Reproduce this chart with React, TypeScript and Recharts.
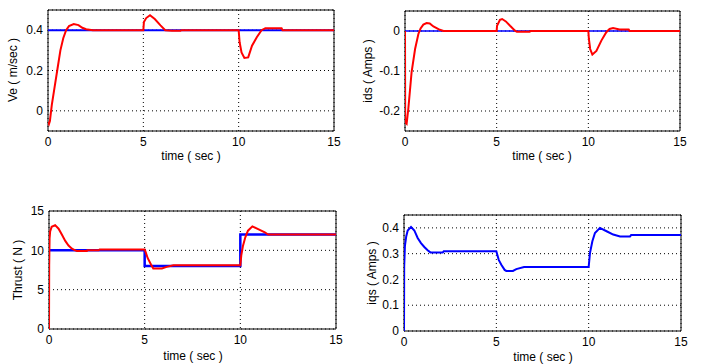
import React from 'react';
import { LineChart, Line, XAxis, YAxis, CartesianGrid, ReferenceArea } from 'recharts';

const timeTicks = [0, 5, 10, 15];

// Panel 1: Ve (m/sec)
const veTicks = [0, 0.2, 0.4];
const veRefTime = [0, 15];
const veRef = [0.4, 0.4];
const veTime = [0, 0.05, 0.1, 0.2, 0.35, 0.5, 0.65, 0.8, 0.95, 1.1, 1.35, 1.6, 1.8, 2.0, 2.35, 5.0, 5.03, 5.15, 5.35, 5.6, 5.9, 6.15, 6.5, 6.95, 7.0, 10.0, 10.05, 10.15, 10.3, 10.5, 10.7, 10.95, 11.2, 11.4, 12.25, 12.3, 15];
const veActual = [-0.055, -0.065, -0.05, 0.03, 0.12, 0.21, 0.3, 0.36, 0.4, 0.42, 0.43, 0.425, 0.412, 0.405, 0.4, 0.4, 0.44, 0.46, 0.474, 0.455, 0.424, 0.4, 0.397, 0.397, 0.4, 0.4, 0.34, 0.29, 0.262, 0.265, 0.323, 0.365, 0.4, 0.41, 0.41, 0.4, 0.4];

// Panel 2: ids (Amps)
const idsTicks = [-0.2, -0.1, 0];
const idsRefTime = [0, 15];
const idsRef = [0, 0];
const idsTime = [0, 0.01, 0.09, 0.18, 0.36, 0.55, 0.73, 0.85, 1.0, 1.18, 1.35, 1.55, 1.9, 2.1, 5.0, 5.02, 5.18, 5.3, 5.5, 5.73, 6.0, 6.1, 6.8, 6.85, 10.0, 10.03, 10.1, 10.22, 10.44, 10.71, 10.98, 11.16, 11.35, 11.7, 12.2, 12.25, 15];
const idsActual = [0, -0.228, -0.232, -0.195, -0.103, -0.045, -0.0075, 0.0065, 0.016, 0.02, 0.019, 0.0115, 0.003, 0, 0, 0.013, 0.028, 0.03, 0.024, 0.013, 0.001, -0.002, -0.002, 0, 0, -0.02, -0.045, -0.059, -0.05, -0.024, -0.003, 0.005, 0.0075, 0.004, 0.004, 0, 0];

// Panel 3: Thrust (N)
const thrustTicks = [0, 5, 10, 15];
const thrustRefTime = [0, 5, 5, 10, 10, 15];
const thrustRef = [10, 10, 8, 8, 12, 12];
const thrustTime = [0, 0.01, 0.03, 0.06, 0.14, 0.32, 0.5, 0.67, 0.85, 1.02, 1.2, 1.37, 1.46, 1.98, 2.0, 2.6, 2.65, 5.0, 5.02, 5.16, 5.33, 5.45, 5.9, 6.15, 6.5, 10.0, 10.05, 10.14, 10.26, 10.4, 10.63, 10.93, 11.28, 11.45, 15];
const thrustActual = [0, 8.1, 11.5, 12.4, 13.0, 13.2, 12.75, 12.0, 11.2, 10.6, 10.2, 10.0, 9.9, 9.9, 10.0, 10.0, 10.12, 10.12, 10.0, 9.0, 8.2, 7.7, 7.7, 7.9, 8.1, 8.1, 9.35, 10.6, 11.66, 12.5, 13.05, 12.7, 12.3, 12.0, 12.0];

// Panel 4: iqs (Amps)
const iqsTicks = [0, 0.1, 0.2, 0.3, 0.4];
const iqsTime = [0, 0.01, 0.05, 0.12, 0.2, 0.38, 0.56, 0.74, 0.92, 1.1, 1.28, 1.43, 2.1, 2.15, 5.0, 5.13, 5.27, 5.45, 5.54, 5.9, 6.08, 6.5, 10.0, 10.07, 10.2, 10.34, 10.61, 10.97, 11.33, 11.7, 12.24, 12.3, 15];
const iqsValues = [0, 0.25, 0.33, 0.367, 0.39, 0.404, 0.39, 0.361, 0.341, 0.326, 0.313, 0.305, 0.305, 0.309, 0.309, 0.276, 0.257, 0.237, 0.233, 0.233, 0.24, 0.248, 0.248, 0.302, 0.348, 0.38, 0.4, 0.387, 0.374, 0.367, 0.367, 0.372, 0.372];

const zip = (t: number[], v: number[]) => t.map((x, i) => ({ t: x, v: v[i] }));

const FONT = '"Liberation Sans", Arial, Helvetica, sans-serif';
const BLUE = '#0000ff';
const RED = '#ff0000';

type Series = { data: { t: number; v: number }[]; color: string; width: number };

type PanelProps = {
  left: number;
  top: number;
  width: number;
  height: number;
  mTop: number;
  mRight: number;
  yWidth: number;
  domain: [number, number];
  yTicks: number[];
  series: Series[];
};

function Panel(p: PanelProps) {
  const tickStyle = { fontSize: 12, fill: '#000', fontFamily: FONT };
  return (
    <div style={{ position: 'absolute', left: p.left, top: p.top }}>
      <LineChart width={p.width} height={p.height} margin={{ top: p.mTop, right: p.mRight, left: 0, bottom: 0 }}>
        <CartesianGrid stroke="#000" strokeDasharray="1 3" />
        <XAxis
          dataKey="t"
          type="number"
          domain={[0, 15]}
          ticks={timeTicks}
          interval={0}
          allowDataOverflow
          axisLine={false}
          tickLine={false}
          tickSize={0}
          tickMargin={6}
          height={20}
          tick={tickStyle}
        />
        <YAxis
          type="number"
          domain={p.domain}
          ticks={p.yTicks}
          interval={0}
          allowDataOverflow
          axisLine={false}
          tickLine={false}
          tickSize={0}
          tickMargin={5}
          width={p.yWidth}
          tick={tickStyle}
        />
        <ReferenceArea x1={0} x2={15} y1={p.domain[0]} y2={p.domain[1]} fill="none" fillOpacity={0} stroke="#000" strokeWidth={1} ifOverflow="visible" />
        {p.series.map((s, i) => (
          <Line
            key={i}
            data={s.data}
            dataKey="v"
            type="linear"
            stroke={s.color}
            strokeWidth={s.width}
            dot={false}
            activeDot={false}
            isAnimationActive={false}
          />
        ))}
      </LineChart>
    </div>
  );
}

function Label({ x, y, text, rotate }: { x: number; y: number; text: string; rotate?: boolean }) {
  return (
    <div
      style={{
        position: 'absolute',
        left: x,
        top: y,
        transform: `translate(-50%, -50%)${rotate ? ' rotate(-90deg)' : ''}`,
        whiteSpace: 'nowrap',
        fontFamily: FONT,
        fontSize: 12,
        lineHeight: 1,
        color: '#000',
      }}
    >
      {text}
    </div>
  );
}

export default function App() {
  return (
    <div style={{ position: 'absolute', left: 0, top: 0, width: 711, height: 364, background: '#fff', overflow: 'hidden' }}>
      <Panel
        left={0}
        top={0}
        width={360}
        height={151}
        mTop={10}
        mRight={26}
        yWidth={48}
        domain={[-0.1, 0.5]}
        yTicks={veTicks}
        series={[
          { data: zip(veRefTime, veRef), color: BLUE, width: 2 },
          { data: zip(veTime, veActual), color: RED, width: 2 },
        ]}
      />
      <Panel
        left={355}
        top={0}
        width={360}
        height={151}
        mTop={11}
        mRight={35}
        yWidth={50}
        domain={[-0.25, 0.05]}
        yTicks={idsTicks}
        series={[
          { data: zip(idsRefTime, idsRef), color: BLUE, width: 1.5 },
          { data: zip(idsTime, idsActual), color: RED, width: 2 },
        ]}
      />
      <Panel
        left={0}
        top={180}
        width={360}
        height={169}
        mTop={31}
        mRight={24}
        yWidth={49}
        domain={[0, 15]}
        yTicks={thrustTicks}
        series={[
          { data: zip(thrustRefTime, thrustRef), color: BLUE, width: 2.5 },
          { data: zip(thrustTime, thrustActual), color: RED, width: 2 },
        ]}
      />
      <Panel
        left={355}
        top={180}
        width={360}
        height={171}
        mTop={35}
        mRight={34}
        yWidth={49}
        domain={[0, 0.45]}
        yTicks={iqsTicks}
        series={[{ data: zip(iqsTime, iqsValues), color: BLUE, width: 2 }]}
      />
      <Label x={13} y={70} text="Ve ( m/sec )" rotate />
      <Label x={368} y={71} text="ids ( Amps )" rotate />
      <Label x={18} y={270} text="Thrust ( N )" rotate />
      <Label x={372} y={273} text="iqs ( Amps )" rotate />
      <Label x={191} y={156} text="time ( sec )" />
      <Label x={542} y={156} text="time ( sec )" />
      <Label x={193} y={356} text="time ( sec )" />
      <Label x={543} y={357} text="time ( sec )" />
    </div>
  );
}
